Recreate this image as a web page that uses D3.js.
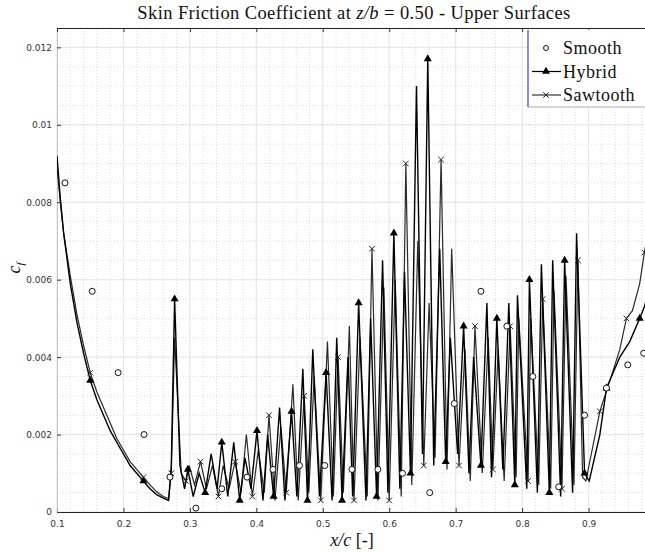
<!DOCTYPE html>
<html>
<head>
<meta charset="utf-8">
<script src="https://cdn.jsdelivr.net/npm/d3@7"></script>
<style>
  body { margin: 0; background: #fff; overflow: hidden; }
  svg { display: block; }
</style>
</head>
<body>
<svg width="645" height="552"></svg>
<script>
// tick values / labels
var xTicks = [0.1, 0.2, 0.3, 0.4, 0.5, 0.6, 0.7, 0.8, 0.9];
var xTickLabels = ["0.1", "0.2", "0.3", "0.4", "0.5", "0.6", "0.7", "0.8", "0.9"];
var yTicks = [0, 0.002, 0.004, 0.006, 0.008, 0.010, 0.012];
var yTickLabels = ["0", "0.002", "0.004", "0.006", "0.008", "0.01", "0.012"];

// Smooth: markers only
var smooth = [
  [0.112, 0.0085], [0.153, 0.0057], [0.192, 0.0036], [0.231, 0.0020], [0.270, 0.0009],
  [0.309, 0.0001], [0.348, 0.0006], [0.386, 0.0009], [0.425, 0.0011], [0.465, 0.0012],
  [0.503, 0.0012], [0.544, 0.0011], [0.583, 0.0011], [0.620, 0.0010], [0.661, 0.0005],
  [0.698, 0.0028], [0.738, 0.0057], [0.777, 0.0048], [0.816, 0.0035], [0.855, 0.00065],
  [0.894, 0.0025], [0.927, 0.0032], [0.959, 0.0038], [0.983, 0.0041]
];

// Hybrid: line + triangles
var hybrid = [
  [0.100, 0.0092], [0.105, 0.0081], [0.110, 0.0072], [0.120, 0.0059], [0.130, 0.0049],
  [0.140, 0.0041], [0.150, 0.0034], [0.160, 0.0029], [0.170, 0.0025], [0.180, 0.0021],
  [0.190, 0.0018], [0.200, 0.0015], [0.210, 0.0012], [0.220, 0.0010], [0.230, 0.0008],
  [0.240, 0.0006], [0.250, 0.00045], [0.260, 0.00036], [0.268, 0.0003], [0.272, 0.0012],
  [0.277, 0.0055], [0.285, 0.0012], [0.292, 0.0006], [0.297, 0.0011], [0.305, 0.0004],
  [0.314, 0.0010], [0.323, 0.0005], [0.332, 0.0015], [0.341, 0.0006], [0.348, 0.0018],
  [0.357, 0.0004], [0.366, 0.0018], [0.375, 0.0003], [0.383, 0.0014], [0.392, 0.0006],
  [0.401, 0.0021], [0.410, 0.0003], [0.417, 0.0020], [0.426, 0.0004], [0.435, 0.0027],
  [0.443, 0.0003], [0.453, 0.0026], [0.461, 0.0004], [0.470, 0.0037], [0.477, 0.0003],
  [0.485, 0.0042], [0.495, 0.0004], [0.505, 0.0036], [0.514, 0.0003], [0.521, 0.0045],
  [0.529, 0.0003], [0.538, 0.0040], [0.545, 0.0004], [0.554, 0.0054], [0.565, 0.0003],
  [0.572, 0.0050], [0.581, 0.0004], [0.590, 0.0065], [0.598, 0.0005], [0.607, 0.0072],
  [0.616, 0.0006], [0.623, 0.0062], [0.632, 0.0010], [0.641, 0.0110], [0.650, 0.0015],
  [0.658, 0.0117], [0.667, 0.0012], [0.676, 0.0068], [0.685, 0.0013], [0.692, 0.0045],
  [0.703, 0.0015], [0.712, 0.0048], [0.720, 0.0010], [0.727, 0.0040], [0.738, 0.0012],
  [0.747, 0.0054], [0.754, 0.0009], [0.762, 0.0050], [0.771, 0.0011], [0.780, 0.0054],
  [0.789, 0.0007], [0.793, 0.0056], [0.807, 0.0006], [0.811, 0.0060], [0.823, 0.0005],
  [0.829, 0.0064], [0.841, 0.0005], [0.846, 0.0065], [0.858, 0.0004], [0.864, 0.0065],
  [0.876, 0.0005], [0.882, 0.0072], [0.894, 0.0010], [0.901, 0.0008], [0.917, 0.0020],
  [0.927, 0.0032], [0.947, 0.0040], [0.962, 0.0044], [0.977, 0.0050], [0.984, 0.0053],
  [1.000, 0.0063]
];

// Sawtooth: line + x markers
var sawtooth = [
  [0.100, 0.0089], [0.105, 0.0080], [0.110, 0.0072], [0.120, 0.0061], [0.130, 0.0051],
  [0.140, 0.0043], [0.150, 0.0036], [0.160, 0.0031], [0.170, 0.0027], [0.180, 0.0023],
  [0.190, 0.0019], [0.200, 0.0016], [0.210, 0.0013], [0.220, 0.0011], [0.230, 0.0009],
  [0.240, 0.0007], [0.250, 0.00052], [0.260, 0.0004], [0.268, 0.00035], [0.272, 0.0010],
  [0.277, 0.0045], [0.287, 0.0010], [0.294, 0.0008], [0.299, 0.0012], [0.307, 0.0007],
  [0.316, 0.0013], [0.325, 0.0006], [0.334, 0.0012], [0.343, 0.0004], [0.350, 0.0012],
  [0.359, 0.0006], [0.368, 0.0013], [0.377, 0.0005], [0.385, 0.0020], [0.394, 0.0004],
  [0.403, 0.0016], [0.412, 0.0005], [0.419, 0.0025], [0.428, 0.0003], [0.437, 0.0022],
  [0.445, 0.0005], [0.455, 0.0033], [0.463, 0.0003], [0.472, 0.0030], [0.479, 0.0005],
  [0.487, 0.0035], [0.497, 0.0003], [0.507, 0.0044], [0.516, 0.0004], [0.523, 0.0040],
  [0.531, 0.0005], [0.540, 0.0048], [0.547, 0.0003], [0.556, 0.0045], [0.567, 0.0004],
  [0.574, 0.0068], [0.583, 0.0003], [0.592, 0.0058], [0.600, 0.0003], [0.609, 0.0060],
  [0.618, 0.0004], [0.625, 0.0090], [0.634, 0.0007], [0.643, 0.0070], [0.652, 0.0012],
  [0.660, 0.0054], [0.669, 0.0014], [0.678, 0.0091], [0.687, 0.0011], [0.694, 0.0068],
  [0.705, 0.0012], [0.714, 0.0042], [0.722, 0.0008], [0.729, 0.0048], [0.740, 0.0010],
  [0.749, 0.0045], [0.756, 0.0011], [0.764, 0.0042], [0.773, 0.0008], [0.782, 0.0048],
  [0.791, 0.0009], [0.795, 0.0050], [0.809, 0.0008], [0.813, 0.0050], [0.825, 0.0007],
  [0.831, 0.0055], [0.843, 0.0006], [0.848, 0.0057], [0.860, 0.0006], [0.866, 0.0061],
  [0.878, 0.0007], [0.884, 0.0065], [0.891, 0.0009], [0.896, 0.0008], [0.917, 0.0026],
  [0.936, 0.0036], [0.947, 0.0042], [0.957, 0.0050], [0.966, 0.0052], [0.977, 0.0059],
  [0.984, 0.0067], [1.000, 0.0082]
];

var legendNames = ["Smooth", "Hybrid", "Sawtooth"];

var svg = d3.select("svg");

// plot box (right edge runs past the window, as in the reference)
var plotLeft = 57, plotRight = 655, plotTop = 28, plotBottom = 512;

var x = d3.scaleLinear().domain([0.1, 1.0]).range([plotLeft, plotRight]);
var y = d3.scaleLinear().domain([0, 0.0125]).range([plotBottom, plotTop]);

svg.append("defs").append("clipPath").attr("id", "plotclip")
  .append("rect").attr("x", plotLeft).attr("y", plotTop)
  .attr("width", plotRight - plotLeft).attr("height", plotBottom - plotTop);

//////////// GRID ////////////
var grid = svg.append("g").attr("class", "grid");

grid.selectAll("line.xminor")
  .data(x.ticks(45))
  .enter().append("line")
    .attr("x1", function(d) { return x(d); })
    .attr("x2", function(d) { return x(d); })
    .attr("y1", plotTop).attr("y2", plotBottom)
    .attr("stroke", "#cfcfcf").attr("stroke-width", 0.7)
    .attr("stroke-dasharray", "1,2");

grid.selectAll("line.yminor")
  .data(y.ticks(25))
  .enter().append("line")
    .attr("x1", plotLeft).attr("x2", plotRight)
    .attr("y1", function(d) { return y(d); })
    .attr("y2", function(d) { return y(d); })
    .attr("stroke", "#cfcfcf").attr("stroke-width", 0.7)
    .attr("stroke-dasharray", "1,2");

grid.selectAll("line.xmajor")
  .data(xTicks)
  .enter().append("line")
    .attr("x1", function(d) { return x(d); })
    .attr("x2", function(d) { return x(d); })
    .attr("y1", plotTop).attr("y2", plotBottom)
    .attr("stroke", "#e2e2e2").attr("stroke-width", 0.8);

grid.selectAll("line.ymajor")
  .data(yTicks)
  .enter().append("line")
    .attr("x1", plotLeft).attr("x2", plotRight)
    .attr("y1", function(d) { return y(d); })
    .attr("y2", function(d) { return y(d); })
    .attr("stroke", "#e2e2e2").attr("stroke-width", 0.8);

//////////// AXES ////////////
var xAxis = svg.append("g")
  .attr("transform", "translate(0," + plotBottom + ")")
  .call(d3.axisBottom(x).tickValues(xTicks)
    .tickFormat(function(d, i) { return xTickLabels[i]; })
    .tickSizeInner(-4).tickSizeOuter(0).tickPadding(9));

var yAxis = svg.append("g")
  .attr("transform", "translate(" + plotLeft + ",0)")
  .call(d3.axisLeft(y).tickValues(yTicks)
    .tickFormat(function(d, i) { return yTickLabels[i]; })
    .tickSizeInner(-4).tickSizeOuter(0).tickPadding(5));

var topAxis = svg.append("g")
  .attr("transform", "translate(0," + plotTop + ")")
  .call(d3.axisTop(x).tickValues(xTicks).tickFormat("")
    .tickSizeInner(-4).tickSizeOuter(0));

xAxis.select(".domain").attr("stroke", "#222").attr("stroke-width", 1.2);
topAxis.select(".domain").attr("stroke", "#222").attr("stroke-width", 1.2);
yAxis.select(".domain").attr("stroke", "#bbb").attr("stroke-width", 0.8);

[xAxis, yAxis, topAxis].forEach(function(a) {
  a.selectAll(".tick line").attr("stroke", "#333");
  a.selectAll(".tick text")
    .attr("fill", "#333")
    .style("font-family", "'DejaVu Sans', sans-serif")
    .style("font-size", "9px");
});

//////////// SERIES ////////////
var plot = svg.append("g").attr("clip-path", "url(#plotclip)");

var line = d3.line()
  .x(function(d) { return x(d[0]); })
  .y(function(d) { return y(d[1]); });

plot.append("path")
  .datum(sawtooth)
  .attr("d", line)
  .attr("fill", "none")
  .attr("stroke", "#2a2a2a")
  .attr("stroke-width", 1.2);

plot.append("path")
  .datum(hybrid)
  .attr("d", line)
  .attr("fill", "none")
  .attr("stroke", "#000")
  .attr("stroke-width", 1.4);

// markers: sparse on the smooth leading edge, every 3rd vertex afterwards
function markEvery(arr, offset) {
  return arr.filter(function(d, i) {
    if (d[0] < 0.27) return i % 8 === 6;
    return i % 3 === offset;
  });
}

var tri = d3.symbol().type(d3.symbolTriangle).size(28);
var cross = d3.symbol().type(d3.symbolTimes).size(22);

plot.selectAll("path.hyb")
  .data(markEvery(hybrid, 2))
  .enter().append("path")
    .attr("class", "hyb")
    .attr("d", tri)
    .attr("transform", function(d) { return "translate(" + x(d[0]) + "," + y(d[1]) + ")"; })
    .attr("fill", "#000");

plot.selectAll("path.saw")
  .data(markEvery(sawtooth, 1))
  .enter().append("path")
    .attr("class", "saw")
    .attr("d", cross)
    .attr("transform", function(d) { return "translate(" + x(d[0]) + "," + y(d[1]) + ")"; })
    .attr("fill", "none")
    .attr("stroke", "#222")
    .attr("stroke-width", 1);

plot.selectAll("circle.smooth")
  .data(smooth)
  .enter().append("circle")
    .attr("class", "smooth")
    .attr("cx", function(d) { return x(d[0]); })
    .attr("cy", function(d) { return y(d[1]); })
    .attr("r", 3)
    .attr("fill", "#fff")
    .attr("stroke", "#111")
    .attr("stroke-width", 1);

//////////// TEXT ////////////
var serif = "'Liberation Serif', 'DejaVu Serif', serif";

var title = svg.append("text")
  .attr("x", 354).attr("y", 19)
  .attr("text-anchor", "middle")
  .style("font-family", serif)
  .style("font-size", "18.5px")
  .style("letter-spacing", "0.4px")
  .attr("fill", "#111");
title.append("tspan").text("Skin Friction Coefficient at ");
title.append("tspan").style("font-style", "italic").text("z/b");
title.append("tspan").text(" = 0.50 - Upper Surfaces");

var xlab = svg.append("text")
  .attr("x", 352).attr("y", 546)
  .attr("text-anchor", "middle")
  .style("font-family", serif)
  .style("font-size", "18px")
  .attr("fill", "#111");
xlab.append("tspan").style("font-style", "italic").text("x/c");
xlab.append("tspan").text(" [-]");

var ylab = svg.append("text")
  .attr("transform", "translate(20,268) rotate(-90)")
  .attr("text-anchor", "middle")
  .style("font-family", serif)
  .style("font-size", "18px")
  .attr("fill", "#111");
ylab.append("tspan").style("font-style", "italic").text("c");
ylab.append("tspan").style("font-style", "italic").style("font-size", "11px")
  .attr("dy", 4).text("f");

//////////// LEGEND ////////////
var legend = svg.append("g").attr("transform", "translate(528,30)");

legend.append("rect")
  .attr("x", 0).attr("y", 0).attr("width", 130).attr("height", 77)
  .attr("fill", "#fff");
legend.append("line")
  .attr("x1", 0).attr("x2", 0).attr("y1", 0).attr("y2", 77)
  .attr("stroke", "#3b3bd0").attr("stroke-width", 1.2);
legend.append("line")
  .attr("x1", 0).attr("x2", 130).attr("y1", 77).attr("y2", 77)
  .attr("stroke", "#999").attr("stroke-width", 0.8);

var rows = legend.selectAll("g.row")
  .data(legendNames)
  .enter().append("g")
    .attr("class", "row")
    .attr("transform", function(d, i) { return "translate(0," + (18 + i * 23.5) + ")"; });

rows.filter(function(d, i) { return i > 0; })
  .append("line")
    .attr("x1", 4).attr("x2", 33).attr("y1", 0).attr("y2", 0)
    .attr("stroke", function(d, i) { return i === 0 ? "#000" : "#333"; })
    .attr("stroke-width", 1.2);

rows.each(function(d, i) {
  var g = d3.select(this);
  if (i === 0) {
    g.append("circle").attr("cx", 18).attr("cy", 0).attr("r", 2.5)
      .attr("fill", "#fff").attr("stroke", "#111").attr("stroke-width", 1);
  } else if (i === 1) {
    g.append("path").attr("d", tri).attr("transform", "translate(18,0)").attr("fill", "#000");
  } else {
    g.append("path").attr("d", cross).attr("transform", "translate(18,0)")
      .attr("fill", "none").attr("stroke", "#222").attr("stroke-width", 1);
  }
});

rows.append("text")
  .attr("x", 35).attr("y", 6)
  .style("font-family", serif)
  .style("font-size", "18px")
  .style("letter-spacing", "0.5px")
  .attr("fill", "#111")
  .text(function(d) { return d; });
</script>
</body>
</html>
